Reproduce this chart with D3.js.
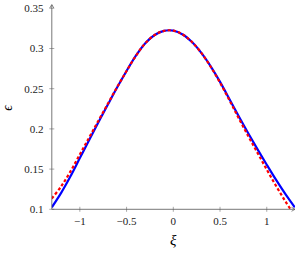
<!DOCTYPE html>
<html>
<head>
	<script src="https://cdn.jsdelivr.net/npm/d3@7/dist/d3.min.js"></script>
	<style>
		html, body {
			padding: 0;
			margin: 0;
			background: #fff;
		}
	</style>
</head>
<body>
	<script>
		var width = 295, height = 253;

		// values
		var xi = [-1.3, -1.2, -1.1, -1.0, -0.9, -0.8, -0.7, -0.6, -0.5, -0.4, -0.3, -0.2, -0.1,
			0.0, 0.1, 0.2, 0.3, 0.4, 0.5, 0.6, 0.7, 0.8, 0.9, 1.0, 1.1, 1.2, 1.3];
		var blue = [0.1025, 0.1205, 0.1411, 0.1637, 0.1863, 0.2085, 0.2303, 0.2517, 0.272, 0.291, 0.3065, 0.3168, 0.322,
			0.3222, 0.3175, 0.308, 0.2945, 0.2778, 0.2585, 0.2373, 0.2158, 0.195, 0.1749, 0.1554, 0.1365, 0.1188, 0.1024];
		var red = [0.1135, 0.1285, 0.1471, 0.1682, 0.1893, 0.2105, 0.2313, 0.2522, 0.272, 0.291, 0.3065, 0.3168, 0.322,
			0.3222, 0.3175, 0.308, 0.2945, 0.2773, 0.2575, 0.2358, 0.2133, 0.1915, 0.1704, 0.1494, 0.129, 0.1098, 0.0919];
		var xTicks = [-1, -0.5, 0, 0.5, 1];
		var yTicks = [0.1, 0.15, 0.2, 0.25, 0.3, 0.35];

		var x = d3.scaleLinear().domain([-1.3, 1.3]).range([51.8, 294.8]);
		var y = d3.scaleLinear().domain([0.1, 0.35]).range([209.3, 8.3]);

		var svg = d3.select('body').append('svg')
			.attr('width', width)
			.attr('height', height)
			.style('font-family', "'Liberation Serif', serif");

		svg.append('clipPath').attr('id', 'plot')
			.append('rect')
			.attr('x', x(-1.3)).attr('y', 0)
			.attr('width', x(1.3) - x(-1.3) + 1).attr('height', y(0.1));

		var line = function(vals) {
			return d3.line()
				.x(function(d, i) { return x(xi[i]); })
				.y(function(d) { return y(d); })
				.curve(d3.curveCatmullRom)(vals);
		};

		var curves = svg.append('g').attr('clip-path', 'url(#plot)');
		curves.append('path')
			.attr('d', line(blue))
			.attr('fill', 'none')
			.attr('stroke', '#0000ff')
			.attr('stroke-width', 2.2);
		curves.append('path')
			.attr('d', line(red))
			.attr('fill', 'none')
			.attr('stroke', '#ff0000')
			.attr('stroke-width', 2.2)
			.attr('stroke-dasharray', '3,2.2');

		var axisColor = '#555';

		// axis lines
		svg.append('line')
			.attr('x1', x(-1.3)).attr('x2', x(-1.3))
			.attr('y1', y(0.1)).attr('y2', 5)
			.attr('stroke', axisColor).attr('stroke-width', 0.8);
		svg.append('path')
			.attr('d', 'M' + (x(-1.3) - 2) + ',8 L' + x(-1.3) + ',4.5 L' + (x(-1.3) + 2) + ',8')
			.attr('fill', 'none').attr('stroke', axisColor).attr('stroke-width', 0.7);
		svg.append('line')
			.attr('x1', x(-1.3)).attr('x2', 295)
			.attr('y1', y(0.1)).attr('y2', y(0.1))
			.attr('stroke', axisColor).attr('stroke-width', 0.8);
		svg.append('path')
			.attr('d', 'M291.5,' + (y(0.1) - 2) + ' L295,' + y(0.1) + ' L291.5,' + (y(0.1) + 2))
			.attr('fill', 'none').attr('stroke', axisColor).attr('stroke-width', 0.7);

		// ticks
		svg.selectAll('.xt').data(xTicks).enter().append('line')
			.attr('x1', function(d) { return x(d); }).attr('x2', function(d) { return x(d); })
			.attr('y1', y(0.1) - 2.5).attr('y2', y(0.1) + 2.5)
			.attr('stroke', axisColor).attr('stroke-width', 0.5);
		svg.selectAll('.yt').data(yTicks).enter().append('line')
			.attr('x1', x(-1.3) - 2.5).attr('x2', x(-1.3) + 2.5)
			.attr('y1', function(d) { return y(d); }).attr('y2', function(d) { return y(d); })
			.attr('stroke', axisColor).attr('stroke-width', 0.5);

		svg.selectAll('.xl').data(xTicks).enter().append('text')
			.attr('x', function(d) { return x(d); })
			.attr('y', 224.5)
			.attr('text-anchor', 'middle')
			.attr('font-size', 11)
			.attr('fill', '#222')
			.text(function(d) { return d < 0 ? '\u2212' + Math.abs(d) : d; });
		svg.selectAll('.yl').data(yTicks).enter().append('text')
			.attr('x', 43.5)
			.attr('y', function(d) { return y(d) + 3.8; })
			.attr('text-anchor', 'end')
			.attr('font-size', 11)
			.attr('fill', '#222')
			.text(function(d) { return d; });

		// axis labels
		svg.append('text')
			.attr('transform', 'translate(12,108) rotate(-90)')
			.attr('text-anchor', 'middle')
			.attr('font-size', 14).attr('font-style', 'italic')
			.text('\u03f5');
		svg.append('text')
			.attr('x', x(0)).attr('y', 245)
			.attr('text-anchor', 'middle')
			.attr('font-size', 15).attr('font-style', 'italic')
			.text('\u03be');
	</script>
</body>
</html>
